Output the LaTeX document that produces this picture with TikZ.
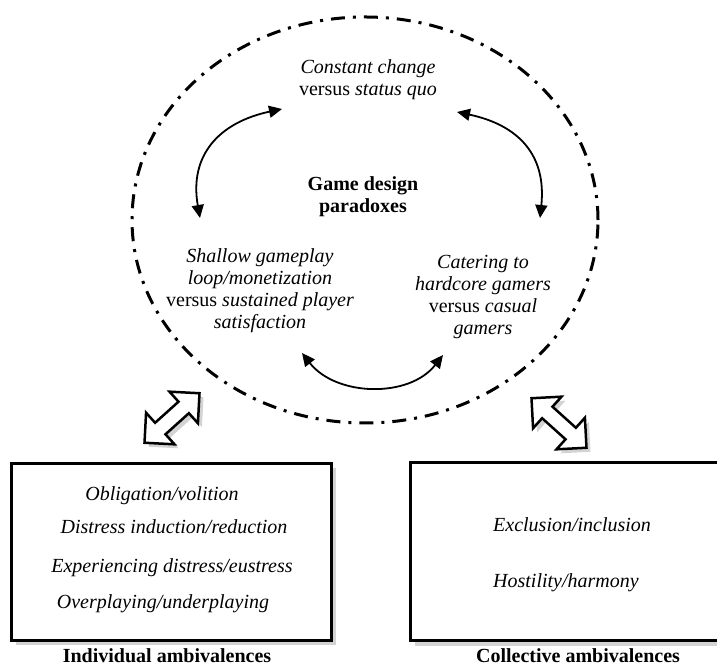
\documentclass[tikz,border=0pt]{standalone}
\usepackage{fontspec}
\setmainfont{Liberation Serif}
\usetikzlibrary{arrows.meta, shapes.arrows, shadows}

\tikzset{
	txt/.style={font=\fontsize{20}{22}\selectfont\itshape, align=center, inner sep=0pt},
	lbl/.style={font=\fontsize{20}{22}\selectfont\bfseries, align=center, inner sep=0pt},
	curve/.style={{Triangle[length=13pt,width=12pt]}-{Triangle[length=13pt,width=12pt]}, line width=1.8pt, looseness=1.2},
	ring/.style={line width=3pt, dash pattern=on 14pt off 8pt on 3pt off 8pt},
	frame/.style={draw, line width=3pt, fill=white, drop shadow={opacity=0.35, shadow xshift=5pt, shadow yshift=-5pt}},
	link/.style={double arrow, draw, fill=white, line width=2.5pt, minimum height=74pt, inner sep=6.5pt,
		double arrow head extend=13.5pt, double arrow tip angle=90, drop shadow={opacity=0.35, shadow xshift=4pt, shadow yshift=-4pt}}
}

\begin{document}
\begin{tikzpicture}[x=1pt, y=1pt]
	\useasboundingbox (0,0) rectangle (717,666);
	\clip (0,0) rectangle (717,666);

	% dash-dot circle
	\draw[ring] (365,446) ellipse [x radius=233, y radius=203];

	% the three paradoxes
	\node[lbl] (game) at (363,469) {Game design\\paradoxes};
	\node[txt] (const) at (368,586) {Constant change\\\textup{versus} status quo};
	\node[txt] (shallow) at (260,375) {Shallow gameplay\\loop/monetization\\\textup{versus} sustained player\\satisfaction};
	\node[txt] (cater) at (483,369) {Catering to\\hardcore gamers\\\textup{versus} casual\\gamers};

	% curved arrows
	\draw[curve] ([shift={(-60,73)}]shallow.center) to[out=100, in=192] ([shift={(-86,-29)}]const.center);
	\draw[curve] ([shift={(89,-32)}]const.center) to[out=-12, in=84] ([shift={(57,79)}]cater.center);
	\draw[curve] ([shift={(42,-62)}]shallow.center) to[out=-52, in=-128, looseness=1] ([shift={(-40,-58)}]cater.center);

	% boxes
	\node[frame, minimum width=320pt, minimum height=177pt] (indiv) at (171,114) {};
	\node[frame, minimum width=330pt, minimum height=178pt] (coll) at (575,114) {};

	% hollow double arrows
	\node[link, rotate=42] (link_l) at (172,248) {};
	\node[link, rotate=-42] (link_r) at (559,243) {};

	% individual ambivalences
	\foreach \t/\x/\y [count=\i] in {{Obligation/volition}/162/165, {Distress induction/reduction}/174/132,
		{Experiencing distress/eustress}/172/93, {Overplaying/underplaying}/163/57}
	{
		\node[txt, anchor=base] (ind_\i) at (\x,\y) {\t};
	}

	% collective ambivalences
	\node[txt, anchor=base west] (col_1) at (493,134) {Exclusion/inclusion};
	\node[txt, anchor=base west] (col_2) at (493,78) {Hostility/harmony};

	% captions
	\node[lbl, anchor=base] (indiv_cap) at (167,3) {Individual ambivalences};
	\node[lbl, anchor=base] (coll_cap) at (578,3) {Collective ambivalences};

\end{tikzpicture}
\end{document}
